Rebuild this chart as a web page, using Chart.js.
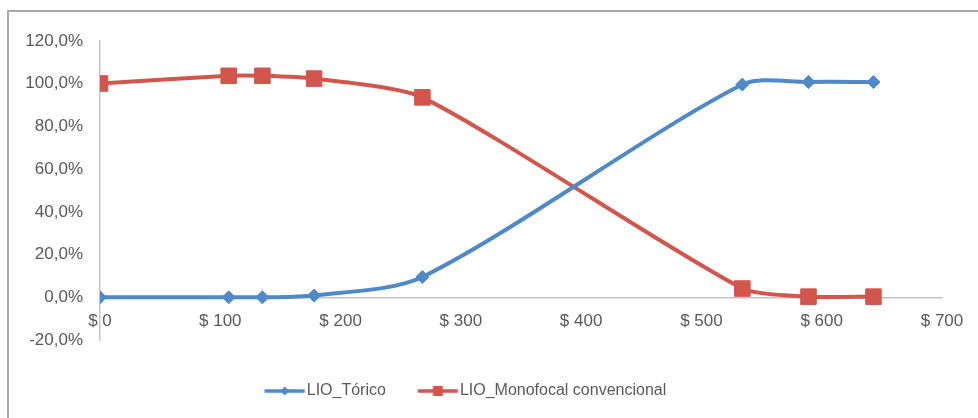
<!DOCTYPE html>
<html>
<head>
<meta charset="utf-8">
<script src="https://cdn.jsdelivr.net/npm/chart.js@4/dist/chart.umd.min.js"></script>
<style>
  html, body { margin: 0; padding: 0; background: #ffffff; }
  #wrap { position: relative; width: 978px; height: 418px; overflow: hidden; }
  #frame { position: absolute; left: 7px; top: 10px; right: -4px; bottom: -4px;
           border-top: 2px solid #a8a8a8; border-left: 2px solid #a8a8a8; pointer-events: none; }
  canvas { position: absolute; left: 0; top: 0; }
</style>
</head>
<body>
<div id="wrap">
  <canvas id="chart" width="978" height="418"></canvas>
  <div id="frame"></div>
</div>
<script>
// Precio (US$) en el eje horizontal
const precios = [0, 107, 135, 178, 268, 534, 589, 643];
// Porcentaje de pacientes que eligen cada lente
const lioTorico = [0, 0, 0, 0.8, 9.5, 99.6, 100.8, 100.8];
const lioMonofocal = [100.1, 103.7, 103.7, 102.4, 93.6, 4.1, 0.3, 0.3];
const seriesNames = ['LIO_Tórico', 'LIO_Monofocal convencional'];

const AZUL = '#4f89c8';
const ROJO = '#d2564c';
const GRIS_TEXTO = '#595959';
const FUENTE = '"Liberation Sans", Arial, sans-serif';

function toPoints(xs, ys) {
  return xs.map((x, i) => ({ x: x, y: ys[i] }));
}

// Small legend icons: a line segment with the series marker in the middle
function legendIcon(color, marker) {
  const c = document.createElement('canvas');
  c.width = 46; c.height = 20;
  const g = c.getContext('2d');
  g.strokeStyle = color;
  g.fillStyle = color;
  g.lineWidth = 3.5;
  g.beginPath();
  g.moveTo(0.5, 10);
  g.lineTo(40.5, 10);
  g.stroke();
  const cx = 20.5, cy = 10;
  g.beginPath();
  if (marker === 'diamond') {
    g.moveTo(cx - 4.5, cy); g.lineTo(cx, cy - 4.5); g.lineTo(cx + 4.5, cy); g.lineTo(cx, cy + 4.5);
    g.closePath();
  } else {
    g.rect(cx - 5, cy - 5, 10, 10);
  }
  g.fill();
  return c;
}
const icons = [legendIcon(AZUL, 'diamond'), legendIcon(ROJO, 'square')];

new Chart(document.getElementById('chart'), {
  type: 'line',
  data: {
    datasets: [
      {
        label: seriesNames[0],
        data: toPoints(precios, lioTorico),
        borderColor: AZUL,
        backgroundColor: AZUL,
        borderWidth: 4,
        tension: 0.28,
        pointStyle: 'rectRot',
        pointRadius: 6.5,
        pointHoverRadius: 6.5,
        pointBorderWidth: 1,
        fill: false
      },
      {
        label: seriesNames[1],
        data: toPoints(precios, lioMonofocal),
        borderColor: ROJO,
        backgroundColor: ROJO,
        borderWidth: 4,
        tension: 0.22,
        pointStyle: 'rect',
        pointRadius: 11,
        pointHoverRadius: 11,
        pointBorderWidth: 1,
        fill: false
      }
    ]
  },
  options: {
    responsive: false,
    animation: false,
    layout: { padding: { top: 41, right: 36, bottom: 9, left: 0 } },
    scales: {
      x: {
        type: 'linear',
        min: 0,
        max: 700,
        position: { y: 0 },
        grid: { display: false, drawTicks: false },
        border: { display: true, color: '#c4c4c4', width: 1.5 },
        ticks: {
          stepSize: 100,
          padding: 14,
          color: GRIS_TEXTO,
          font: { family: FUENTE, size: 17 },
          maxRotation: 0,
          callback: (v) => '$ ' + v
        }
      },
      y: {
        min: -20,
        max: 120,
        grid: { display: false, drawTicks: false },
        border: { display: true, color: '#c4c4c4', width: 1.5 },
        afterFit: (scale) => { scale.width = 100; },
        ticks: {
          stepSize: 20,
          padding: 17,
          color: GRIS_TEXTO,
          font: { family: FUENTE, size: 17 },
          callback: (v) => v.toFixed(1).replace('.', ',') + '%'
        }
      }
    },
    plugins: {
      tooltip: { enabled: false },
      legend: {
        position: 'bottom',
        labels: {
          usePointStyle: true,
          pointStyleWidth: 23,
          padding: 43,
          color: GRIS_TEXTO,
          font: { family: FUENTE, size: 16 },
          generateLabels: (chart) => {
            const items = Chart.defaults.plugins.legend.labels.generateLabels(chart);
            items.forEach((it, i) => { it.pointStyle = icons[i]; });
            return items;
          }
        }
      }
    }
  }
});
</script>
</body>
</html>
